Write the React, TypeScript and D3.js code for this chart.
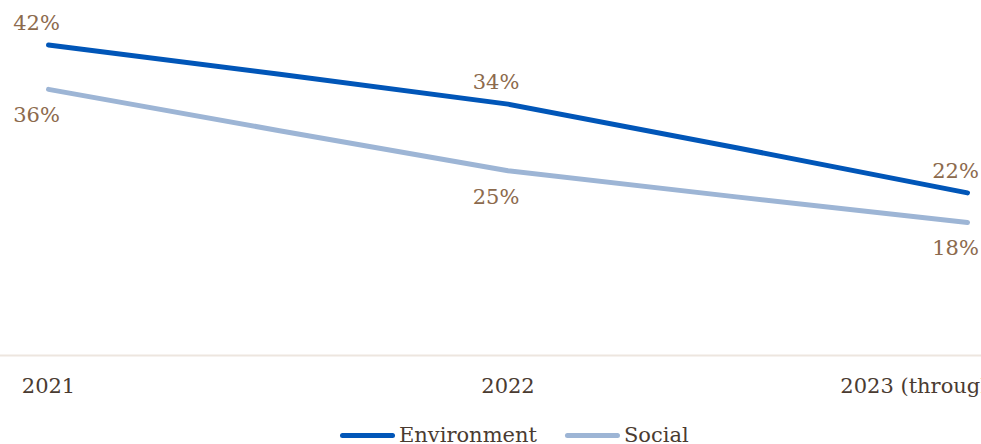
import React, { useEffect, useRef } from "react";
import * as d3 from "d3";

const categories = ["2021", "2022", "2023 (through October)"];
const environment = [42, 34, 22];
const social = [36, 25, 18];
const seriesNames = ["Environment", "Social"];

const W = 981;
const H = 444;
const FONT = "'DejaVu Serif', serif";
const FS = 21;
const ENV_COLOR = "#0156b8";
const SOC_COLOR = "#9db5d5";
const LABEL_COLOR = "#8c6a4d";
const AXIS_TEXT = "#4a3b31";
const BASE_COLOR = "#ede6df";

export default function App() {
  const ref = useRef<SVGSVGElement>(null);

  useEffect(() => {
    const svg = d3.select(ref.current);
    svg.selectAll("*").remove();

    const x = d3.scalePoint<string>().domain(categories).range([48.5, 967.5]);
    const y = d3.scaleLinear().domain([0, 42]).range([355.5, 45]);

    svg
      .append("line")
      .attr("x1", 0)
      .attr("x2", W)
      .attr("y1", y(0))
      .attr("y2", y(0))
      .attr("stroke", BASE_COLOR)
      .attr("stroke-width", 2);

    svg
      .append("g")
      .selectAll("text")
      .data(categories)
      .join("text")
      .attr("x", (d) => x(d)!)
      .attr("y", 393)
      .attr("text-anchor", "middle")
      .attr("font-family", FONT)
      .attr("font-size", FS)
      .attr("fill", AXIS_TEXT)
      .text((d) => d);

    const line = d3
      .line<number>()
      .x((_, i) => x(categories[i])!)
      .y((d) => y(d))
      .curve(d3.curveCardinal.tension(0.75));

    const series = [
      { name: seriesNames[0], values: environment, color: ENV_COLOR, above: true },
      { name: seriesNames[1], values: social, color: SOC_COLOR, above: false },
    ];

    [...series].reverse().forEach((s) => {
      svg
        .append("path")
        .attr("d", line(s.values)!)
        .attr("fill", "none")
        .attr("stroke", s.color)
        .attr("stroke-width", 5)
        .attr("stroke-linecap", "round")
        .attr("stroke-linejoin", "round");
    });

    series.forEach((s) => {
      svg
        .append("g")
        .selectAll("text")
        .data(s.values)
        .join("text")
        .attr("x", (_, i) => x(categories[i])! - 12)
        .attr("y", (d) => y(d) + (s.above ? -15 : 33))
        .attr("text-anchor", "middle")
        .attr("font-family", FONT)
        .attr("font-size", FS)
        .attr("fill", LABEL_COLOR)
        .text((d) => `${d}%`);
    });

    const lg = svg.append("g");
    let cx = 340;
    series.forEach((s) => {
      lg.append("line")
        .attr("x1", cx + 2.5)
        .attr("x2", cx + 52.5)
        .attr("y1", 435.5)
        .attr("y2", 435.5)
        .attr("stroke", s.color)
        .attr("stroke-width", 5)
        .attr("stroke-linecap", "round");
      const t = lg
        .append("text")
        .attr("x", cx + 59)
        .attr("y", 441.5)
        .attr("font-family", FONT)
        .attr("font-size", FS)
        .attr("fill", AXIS_TEXT)
        .text(s.name);
      const w = (t.node() as SVGTextElement).getComputedTextLength();
      cx = cx + 59 + w + 28;
    });
  }, []);

  return (
    <svg
      ref={ref}
      width={W}
      height={H}
      style={{ position: "absolute", left: 0, top: 0, background: "#fff" }}
    />
  );
}
